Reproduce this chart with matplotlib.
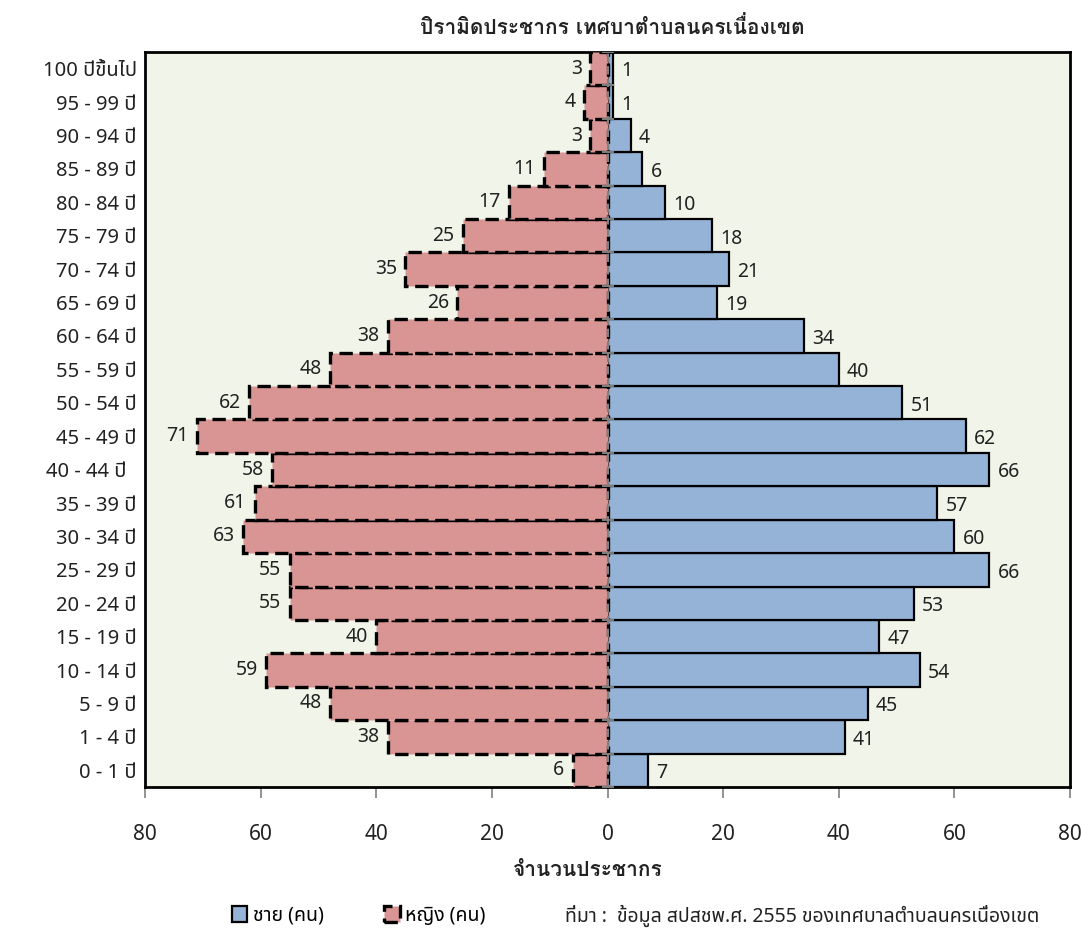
import matplotlib
matplotlib.use('Agg')
import matplotlib.pyplot as plt
from matplotlib import font_manager as fm
from matplotlib.patches import Patch
import numpy as np

# ---------------- data ----------------
age_groups = ['0 - 1 ปี', '1 - 4 ปี', '5 - 9 ปี', '10 - 14 ปี', '15 - 19 ปี',
              '20 - 24 ปี', '25 - 29 ปี', '30 - 34 ปี', '35 - 39 ปี', '40 - 44 ปี  ',
              '45 - 49 ปี', '50 - 54 ปี', '55 - 59 ปี', '60 - 64 ปี', '65 - 69 ปี',
              '70 - 74 ปี', '75 - 79 ปี', '80 - 84 ปี', '85 - 89 ปี', '90 - 94 ปี',
              '95 - 99 ปี', '100 ปีขึ้นไป']
female = [6, 38, 48, 59, 40, 55, 55, 63, 61, 58, 71, 62, 48, 38, 26, 35, 25, 17, 11, 3, 4, 3]
male = [7, 41, 45, 54, 47, 53, 66, 60, 57, 66, 62, 51, 40, 34, 19, 21, 18, 10, 6, 4, 1, 1]
x_ticks = [-80, -60, -40, -20, 0, 20, 40, 60, 80]
x_tick_labels = ['80', '60', '40', '20', '0', '20', '40', '60', '80']

title = 'ปิรามิดประชากร เทศบาตำบลนครเนื่องเขต'
x_title = 'จำนวนประชากร'
male_name = 'ชาย (คน)'
female_name = 'หญิง (คน)'
source = 'ที่มา :  ข้อมูล สปสชพ.ศ. 2555 ของเทศบาลตำบลนครเนื่องเขต'

# ---------------- fonts ----------------
available = {f.name for f in fm.fontManager.ttflist}
preferred = ['Noto Sans Thai', 'Noto Sans Thai Looped', 'Sarabun', 'Loma']
fam = [f for f in preferred if f in available] + ['DejaVu Sans']
plt.rcParams['font.family'] = fam


def has_bold(name):
    for f in fm.fontManager.ttflist:
        if f.name == name:
            w = f.weight
            try:
                w = int(w)
            except Exception:
                w = 700 if str(w).lower() in ('bold', 'heavy', 'black', 'extra bold') else 400
            if w >= 600 and 'wght' not in f.fname:
                return True
    return False


bold_pref = [f for f in ['Noto Sans Thai', 'Noto Sans Thai Looped', 'Loma', 'Sarabun'] if f in available and has_bold(f)]
bold_fam = bold_pref[:1] + ['DejaVu Sans']

female_color = '#D99594'
male_color = '#95B3D7'
bg_color = '#F1F5E9'
text_color = '#222222'

fig = plt.figure(figsize=(10.81, 9.35), dpi=100)
ax = fig.add_axes([145/1081, 1-787/935, (1070-145)/1081, (787-52)/935])
ax.set_facecolor(bg_color)

y = np.arange(len(age_groups))
fem_neg = -np.array(female)

ax.barh(y, male, height=1.0, color=male_color, edgecolor='black', linewidth=1.6, zorder=2)
ax.barh(y, fem_neg, height=1.0, color=female_color, edgecolor='black', linewidth=2.4,
        linestyle=(0, (4, 2)), zorder=3)

# central axis line with ticks
ax.axvline(0, color='#808080', linestyle=(0, (4, 2)), linewidth=1.5, zorder=4)
ax.plot(np.zeros(len(y) + 1), np.arange(len(y) + 1) - 0.5, linestyle='none',
        marker='_', markersize=9, markeredgewidth=1.4, color='#808080', zorder=4)

# data labels
for yi, v in zip(y, male):
    ax.annotate(str(v), (v, yi), xytext=(6, -2), textcoords='offset points',
                ha='left', va='center', fontsize=14, color=text_color, zorder=5)
for yi, v in zip(y, female):
    ax.annotate(str(v), (-v, yi), xytext=(-6, 0), textcoords='offset points',
                ha='right', va='center', fontsize=14, color=text_color, zorder=5)

ax.set_xlim(-80, 80)
ax.set_ylim(-0.5, len(y) - 0.5)
ax.set_xticks(x_ticks)
ax.set_xticklabels(x_tick_labels, fontsize=15, color=text_color)
ax.set_yticks(y)
ax.set_yticklabels(age_groups, fontsize=14.5, color=text_color)
ax.tick_params(axis='x', direction='out', length=8, width=1.2, color='#808080', pad=19)
ax.tick_params(axis='y', length=0, pad=6)
for s in ax.spines.values():
    s.set_color('black')
    s.set_linewidth(2)

fig.text(612/1081, 1-27/935, title, ha='center', va='center', fontsize=15,
         fontweight='bold', family=bold_fam, color=text_color)
fig.text(588/1081, 1-870/935, x_title, ha='center', va='center', fontsize=15,
         fontweight='bold', family=bold_fam, color=text_color)

handles = [Patch(facecolor=male_color, edgecolor='black', linewidth=1.6),
           Patch(facecolor=female_color, edgecolor='black', linewidth=2.4, linestyle=(0, (4, 2)))]
fig.legend(handles, [male_name, female_name], loc='center left',
           bbox_to_anchor=(214/1081, 1-916/935), ncol=2, frameon=False,
           handlelength=0.8, handleheight=0.9, handletextpad=0.3, columnspacing=3.1, fontsize=14)
fig.text(565/1081, 1-916/935, source, ha='left', va='center', fontsize=14, color=text_color)

fig.savefig('out.png', dpi=100)
